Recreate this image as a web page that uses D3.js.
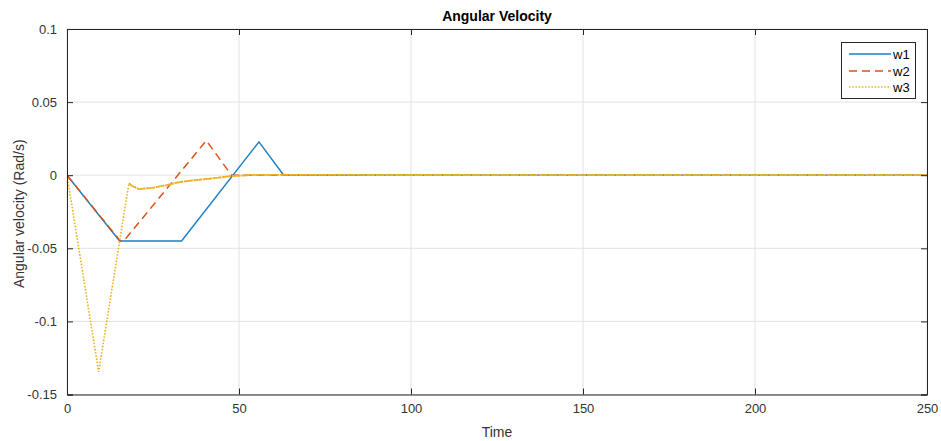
<!DOCTYPE html>
<html>
<head>
<meta charset="utf-8">
<script src="https://cdn.jsdelivr.net/npm/d3@7/dist/d3.min.js"></script>
<style>
  html, body { margin: 0; padding: 0; background: #fff; }
  svg { display: block; font-family: "Liberation Sans", Arial, Helvetica, sans-serif; }
</style>
</head>
<body>
<svg id="chart" width="941" height="441"></svg>
<script>
// ---- data ----
const title = "Angular Velocity";
const xLabel = "Time";
const yLabel = "Angular velocity (Rad/s)";
const xTicks = [0, 50, 100, 150, 200, 250];
const yTicks = [0.1, 0.05, 0, -0.05, -0.1, -0.15];
const yTickLabels = ["0.1", "0.05", "0", "-0.05", "-0.1", "-0.15"];
const seriesNames = ["w1", "w2", "w3"];

const w1 = [[0, 0], [15.3, -0.045], [33.3, -0.045], [55.8, 0.0228], [63, 0], [250, 0]];
const w2 = [[0, 0], [15.5, -0.045], [16.5, -0.045], [40.5, 0.0237], [47.8, 0], [250, 0]];
const w3 = [[0, 0], [9.2, -0.1345], [18, -0.0055], [19, -0.0075], [20, -0.0085], [21, -0.0096],
            [23, -0.0090], [25, -0.0086], [27, -0.0076], [29, -0.0068], [31, -0.0056], [33, -0.0046],
            [35, -0.0040], [38, -0.0032], [41, -0.0025], [44, -0.0017], [47, -0.0008], [50, -0.0003],
            [55, 0.0002], [60, 0.0003], [70, 0.0002], [90, 0.0001], [120, 0], [250, 0]];

// ---- layout ----
const svg = d3.select("#chart");
const L = 67, R = 927, T = 29, B = 394.5;
const x = d3.scaleLinear().domain([0, 250]).range([L, R]);
const y = d3.scaleLinear().domain([-0.15, 0.1]).range([B, T]);
const axisColor = "#262626";
const textColor = "#333";

// grid
svg.append("g").selectAll("line.gx").data(xTicks).join("line")
  .attr("x1", d => x(d)).attr("x2", d => x(d)).attr("y1", T).attr("y2", B)
  .attr("stroke", "#e2e2e2").attr("stroke-width", 1);
svg.append("g").selectAll("line.gy").data(yTicks).join("line")
  .attr("x1", L).attr("x2", R).attr("y1", d => y(d)).attr("y2", d => y(d))
  .attr("stroke", "#e2e2e2").attr("stroke-width", 1);

// lines
const line = d3.line().x(d => x(d[0])).y(d => y(d[1]));
svg.append("clipPath").attr("id", "clip").append("rect")
  .attr("x", L).attr("y", T).attr("width", R - L).attr("height", B - T);
const plot = svg.append("g").attr("clip-path", "url(#clip)");
plot.append("path").datum(w1).attr("d", line).attr("fill", "none")
  .attr("stroke", "#1f7fc4").attr("stroke-width", 1.5);
plot.append("path").datum(w2).attr("d", line).attr("fill", "none")
  .attr("stroke", "#D95319").attr("stroke-width", 1.5).attr("stroke-dasharray", "8,5");
plot.append("path").datum(w3).attr("d", line).attr("fill", "none")
  .attr("stroke", "#EDB120").attr("stroke-width", 1.6).attr("stroke-dasharray", "1.6,1.6");
// noisy tail of w3 reads as nearly solid
plot.append("path").datum(w3.filter(d => d[0] >= 18)).attr("d", line).attr("fill", "none")
  .attr("stroke", "#EDB120").attr("stroke-width", 1.7).attr("stroke-dasharray", "4,0.8");

// axes (box with inward ticks)
const xAxisB = d3.axisBottom(x).tickValues(xTicks).tickSize(-6).tickPadding(9).tickFormat(d3.format("d"));
const xAxisT = d3.axisTop(x).tickValues(xTicks).tickSize(-6).tickFormat("");
const yAxisL = d3.axisLeft(y).tickValues(yTicks).tickSize(-6).tickPadding(10)
  .tickFormat((d, i) => yTickLabels[i]);
const yAxisR = d3.axisRight(y).tickValues(yTicks).tickSize(-6).tickFormat("");

function style(g) {
  g.selectAll("path.domain").attr("stroke", axisColor).attr("stroke-width", 1);
  g.selectAll(".tick line").attr("stroke", axisColor);
  g.selectAll(".tick text").attr("fill", textColor).attr("font-size", 13)
    .attr("font-family", "Liberation Sans, Arial, sans-serif");
}
svg.append("g").attr("transform", `translate(0,${B})`).call(xAxisB).call(style);
svg.append("g").attr("transform", `translate(0,${T})`).call(xAxisT).call(style);
svg.append("g").attr("transform", `translate(${L},0)`).call(yAxisL).call(style);
svg.append("g").attr("transform", `translate(${R},0)`).call(yAxisR).call(style);
svg.selectAll(".domain").attr("d", function() { return d3.select(this).attr("d").replace(/V-?6|V6|H-?6|H6/g, ""); });

// title and labels
svg.append("text").attr("x", (L + R) / 2).attr("y", 21).attr("text-anchor", "middle")
  .attr("font-size", 14).attr("font-weight", "bold").attr("fill", "#000").text(title);
svg.append("text").attr("x", (L + R) / 2).attr("y", 437).attr("text-anchor", "middle")
  .attr("font-size", 14).attr("fill", textColor).text(xLabel);
svg.append("text").attr("transform", `translate(24,${(T + B) / 2 + 2}) rotate(-90)`)
  .attr("text-anchor", "middle").attr("font-size", 14).attr("fill", textColor).text(yLabel);

// legend
const lg = svg.append("g");
lg.append("rect").attr("x", 841.5).attr("y", 42.5).attr("width", 74).attr("height", 56)
  .attr("fill", "#fff").attr("stroke", axisColor).attr("stroke-width", 1);
const styles = [
  { c: "#1f7fc4", dash: null },
  { c: "#D95319", dash: "8,5" },
  { c: "#EDB120", dash: "1.6,1.6" }
];
const ly = [54, 71, 87];
seriesNames.forEach((n, i) => {
  lg.append("line").attr("x1", 849).attr("x2", 891).attr("y1", ly[i]).attr("y2", ly[i])
    .attr("stroke", styles[i].c).attr("stroke-width", 1.5)
    .attr("stroke-dasharray", styles[i].dash);
  lg.append("text").attr("x", 893).attr("y", ly[i] + 4.5).attr("font-size", 13)
    .attr("fill", "#000").text(n);
});
</script>
</body>
</html>
